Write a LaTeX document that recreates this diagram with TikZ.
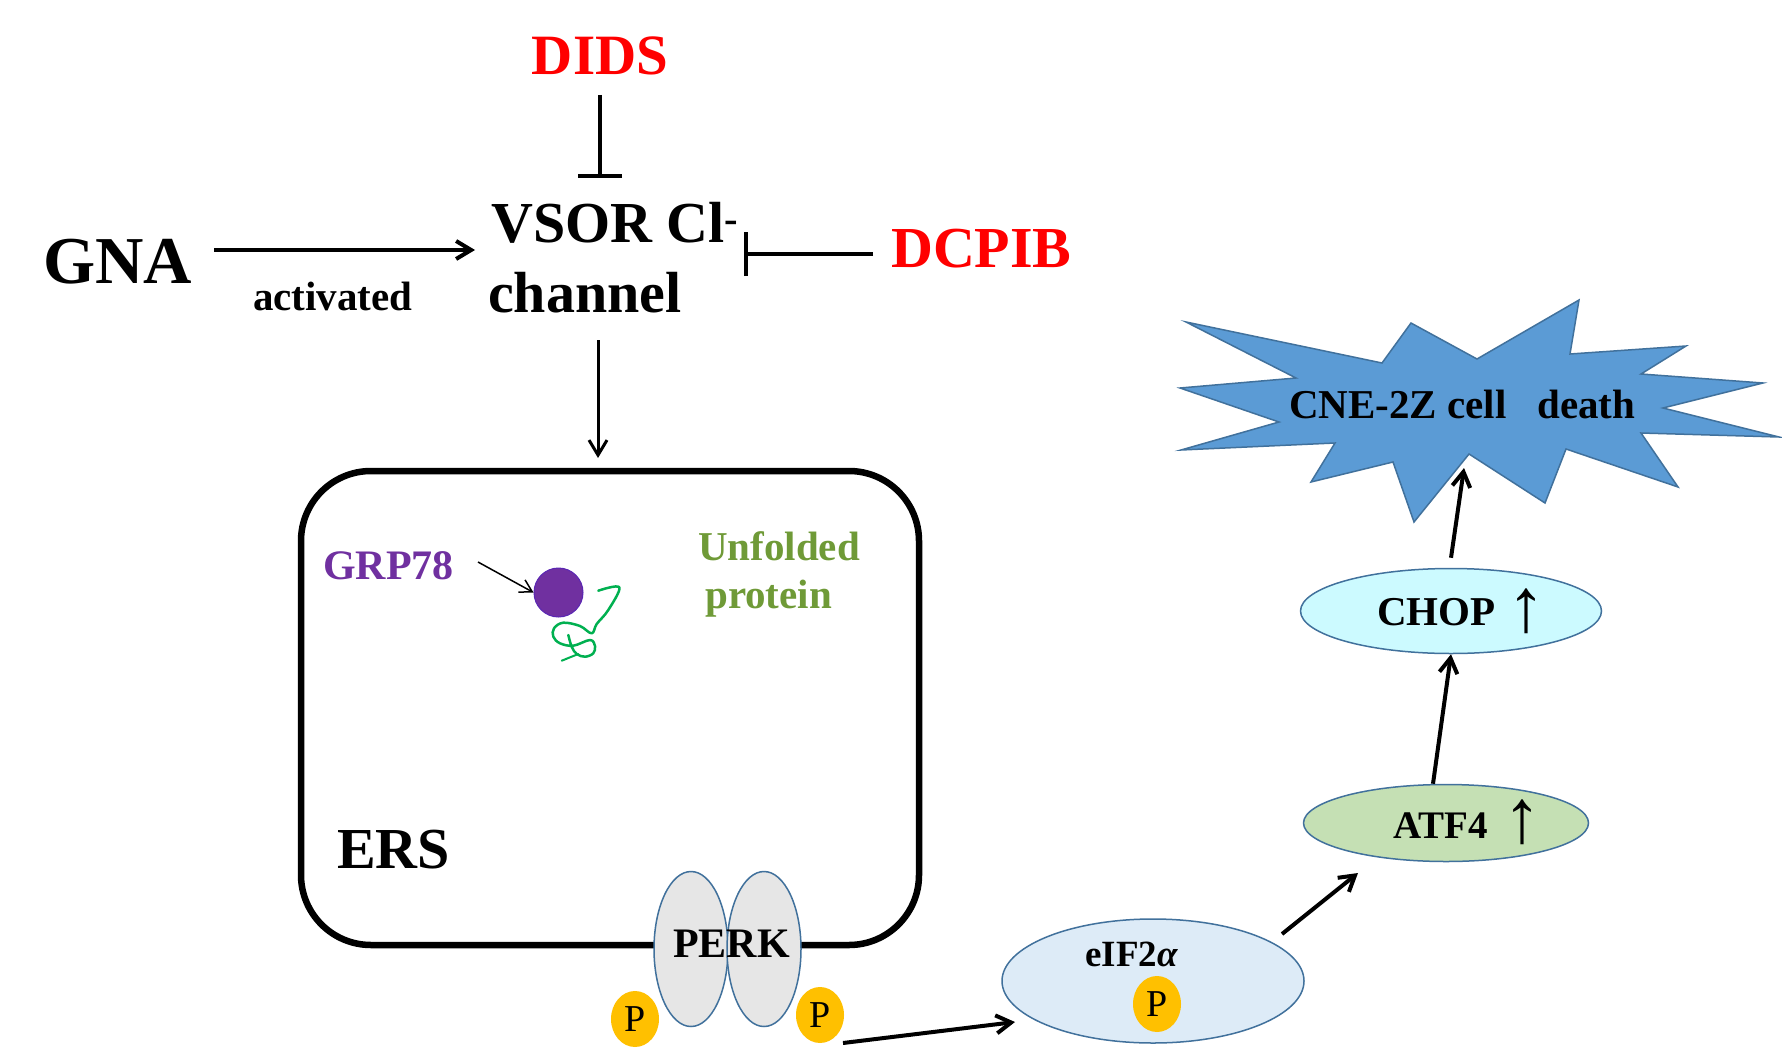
\documentclass[tikz,border=0pt]{standalone}
\usepackage{fontspec}
\setmainfont{Liberation Serif}
\usetikzlibrary{arrows.meta,shapes.geometric,calc}
\definecolor{didsred}{HTML}{FF0000}
\definecolor{grpurple}{HTML}{7030A0}
\definecolor{unfgreen}{HTML}{6F9A37}
\definecolor{sqgreen}{HTML}{00B050}
\definecolor{burstfill}{HTML}{5B9BD5}
\definecolor{edgeblue}{HTML}{41719C}
\definecolor{perkfill}{HTML}{E6E6E6}
\definecolor{pfill}{HTML}{FFC000}
\definecolor{eiffill}{HTML}{DDEBF7}
\definecolor{atffill}{HTML}{C5E0B4}
\definecolor{chopfill}{HTML}{CCFAFF}
\newcommand\myfs[1]{\fontsize{#1}{#1}\selectfont}
\tikzset{
  lbl/.style={inner sep=0pt, anchor=base west, font=\bfseries\myfs{#1}},
  oval/.style={ellipse, draw=edgeblue, line width=1.5pt, inner sep=0pt},
  pcirc/.style={ellipse, fill=pfill, minimum width=48pt, minimum height=56pt, inner sep=0pt, font=\myfs{38}},
  uparr/.style={inner sep=0pt, font=\bfseries\myfs{76}},
  arr/.style={line width=4pt, -{Straight Barb[length=15pt,width=18pt]}},
  thinarr/.style={line width=3pt, -{Straight Barb[length=15pt,width=18pt]}},
  inhib/.style={line width=4pt, -{Bar[width=44pt]}}
}
\begin{document}
\begin{tikzpicture}[x=1pt,y=-1pt]
\useasboundingbox (0,0) rectangle (1782,1054);
\fill[white] (0,0) rectangle (1782,1054);

% top texts
\node[lbl=57, text=didsred, anchor=base] (dids) at (600,75) {DIDS};
\node[lbl=58] (vsor) at (491,242) {VSOR Cl\textsuperscript{-}};
\node[lbl=58] (chan) at (488,312) {channel};
\node[lbl=67] (gna) at (43,283) {GNA};
\node[lbl=41] (act) at (253,310) {activated};
\node[lbl=58, text=didsred] (dcpib) at (891,267) {DCPIB};

% top connectors
\coordinate (g1) at (214,250); \coordinate (g2) at (475,250);
\draw[arr] (g1) -- (g2);
\coordinate (d1) at (600,95); \coordinate (d2) at (600,178);
\draw[inhib] (d1) -- (d2);
\coordinate (c1) at (873,254); \coordinate (c2) at (744,254);
\draw[inhib] (c1) -- (c2);
\coordinate (v1) at (598,340); \coordinate (v2) at (598,458);
\draw[thinarr] (v1) -- (v2);

% ERS box
\draw[line width=6.5pt, rounded corners=70pt] (301,471) rectangle (919,945);
\node[lbl=58] (ers) at (337,868) {ERS};

% GRP78 and unfolded protein
\node[lbl=42, text=grpurple] (grp) at (323,579) {GRP78};
\node[circle, fill=grpurple, draw=grpurple!80!blue, line width=1pt, minimum size=49pt, inner sep=0pt] (ball) at (558.5,592.5) {};
\coordinate (ga) at (478,562);
\draw[line width=1.5pt, -{Straight Barb[length=12pt,width=14pt]}] (ga) -- (ball.west);
\draw[sqgreen, line width=2.5pt, line cap=round, line join=round]
  plot[smooth, tension=0.6] coordinates {(598.3,590.7) (619.3,587.3) (608.3,610) (596.7,624) (591.7,633.3)
  (580,626) (563.3,622.7) (554,628.3) (553.3,636.7) (560,643.3) (573.3,645.7) (590,640)
  (595,646) (593.3,653.3) (585,656.7) (576.7,654) (571.7,646.7) (568.3,635)};
\draw[sqgreen, line width=2pt, line cap=round] (561.7,660.7) -- (578.3,654);
\node[lbl=41, text=unfgreen] (unf) at (698,560) {Unfolded};
\node[lbl=41, text=unfgreen] (prot) at (705,608) {protein};

% PERK
\node[oval, fill=perkfill, minimum width=74pt, minimum height=155pt] (perkL) at (691,949) {};
\node[oval, fill=perkfill, minimum width=74pt, minimum height=155pt] (perkR) at (764,949) {};
\node[lbl=42] (perk) at (673,957) {PERK};
\node[pcirc] (pL) at (635,1019) {P};
\node[pcirc] (pR) at (820,1015) {P};

% eIF2alpha
\node[oval, fill=eiffill, minimum width=302pt, minimum height=124pt] (eif) at (1153,981) {};
\node[lbl=37] (eift) at (1085,966) {eIF2\textit{α}};
\node[pcirc] (pE) at (1157,1004) {P};
\coordinate (a1) at (843,1043); \coordinate (a2) at (1015,1022);
\draw[arr] (a1) -- (a2);
\coordinate (b1) at (1282,934); \coordinate (b2) at (1358,873);
\draw[arr] (b1) -- (b2);

% ATF4
\node[oval, fill=atffill, minimum width=285pt, minimum height=77pt] (atf) at (1446,823) {};
\node[lbl=39] (atft) at (1393,838) {ATF4};
\node[uparr] (atfup) at (1522,822) {↑};

% CHOP
\node[oval, fill=chopfill, minimum width=301pt, minimum height=85pt] (chop) at (1451,611) {};
\node[lbl=41] (chopt) at (1377,625) {CHOP};
\node[uparr] (chopup) at (1526,611) {↑};
\draw[arr] ([xshift=-13pt]atf.north) -- (chop.south);

% starburst
\filldraw[fill=burstfill, draw=edgeblue, line width=1.5pt]
  (1186,322) -- (1382,363) -- (1411,323) -- (1477,359) -- (1579,300) -- (1570,354)
  -- (1686,346) -- (1641,374) -- (1763,383) -- (1663,408) -- (1779,437) -- (1641,433)
  -- (1678,487) -- (1566,449) -- (1545,503) -- (1469,454) -- (1414,522) -- (1393,462)
  -- (1311,482) -- (1335,443) -- (1181,450) -- (1279,422) -- (1180,388) -- (1296,378) -- cycle;
\node[lbl=41] (death) at (1289,418) {CNE-2Z cell\ \ \ death};
\coordinate (burstin) at (1464,468);
\draw[arr] ([yshift=10pt]chop.north) -- (burstin);
\end{tikzpicture}
\end{document}
